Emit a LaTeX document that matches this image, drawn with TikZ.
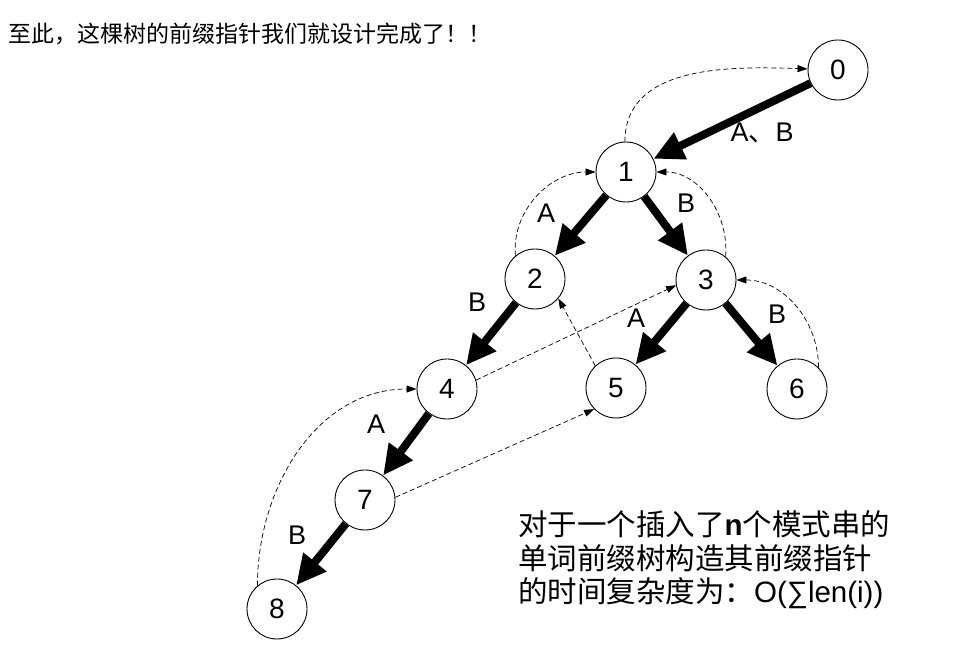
\documentclass[tikz,border=0pt]{standalone}
\usepackage{fontspec}
\setmainfont{Liberation Sans}
\newfontfamily\cjk{Noto Sans CJK SC}
\usetikzlibrary{arrows.meta}
\tikzset{
  st/.style={circle,draw,line width=0.9pt,minimum size=60pt,inner sep=0pt,font=\fontsize{28}{30}\selectfont},
  trie/.style={line width=8pt,-{Triangle[length=30pt,width=28pt]}},
  fail/.style={dashed,dash pattern=on 5pt off 3pt,line width=0.7pt,-{Triangle[length=10pt,width=7pt]}},
  lab/.style={font=\fontsize{27}{29}\selectfont,inner sep=0pt},
  txt/.style={font=\fontsize{29.5}{32}\selectfont,anchor=west,inner sep=0pt}
}
\begin{document}
\begin{tikzpicture}[x=1pt,y=1pt]
\useasboundingbox (0,0) rectangle (957,671);
\node[anchor=west,inner sep=0pt,font=\cjk\fontsize{23}{25}\selectfont] (title) at (8,637) {至此，这棵树的前缀指针我们就设计完成了！！};
\node[st] (n0) at (838,601) {0};
\node[st] (n1) at (626,499) {1};
\node[st] (n2) at (535,392) {2};
\node[st] (n3) at (706,391) {3};
\node[st] (n4) at (447,282) {4};
\node[st] (n5) at (616,283) {5};
\node[st] (n6) at (797,282) {6};
\node[st] (n7) at (365,171) {7};
\node[st] (n8) at (277,62) {8};
\draw[trie] (n0) -- (n1);
\draw[trie] (n1) -- (n2);
\draw[trie] (n1) -- (n3);
\draw[trie] (n2) -- (n4);
\draw[trie] (n3) -- (n5);
\draw[trie] (n3) -- (n6);
\draw[trie] (n4) -- (n7);
\draw[trie] (n7) -- (n8);
\draw[fail] (n1.92) to[out=90,in=178] (n0.178);
\draw[fail] (n2.130) to[out=95,in=180] (n1.180);
\draw[fail] (n3.50) to[out=85,in=0] (n1.0);
\draw[fail] (n6.45) to[out=90,in=0] (n3.0);
\draw[fail] (n8.130) to[out=90,in=180] (n4.180);
\draw[fail] (n4.17) -- (n3.190);
\draw[fail] (n5.133) -- (n2.-40);
\draw[fail] (n7.5) -- (n5.224);
\node[lab] (l01) at (762,538) {A{\cjk 、}B};
\node[lab] (l12) at (546,458) {A};
\node[lab] (l13) at (686,468) {B};
\node[lab] (l24) at (477,369) {B};
\node[lab] (l35) at (636,353) {A};
\node[lab] (l36) at (777,357) {B};
\node[lab] (l47) at (376,247) {A};
\node[lab] (l78) at (297,136) {B};
\node[txt] (t1) at (518,147) {{\cjk 对于一个插入了}\textbf{n}{\cjk 个模式串的}};
\node[txt] (t2) at (518,113) {\cjk 单词前缀树构造其前缀指针};
\node[txt] (t3) at (518,78) {{\cjk 的时间复杂度为：}O(∑len(i))};
\end{tikzpicture}
\end{document}
